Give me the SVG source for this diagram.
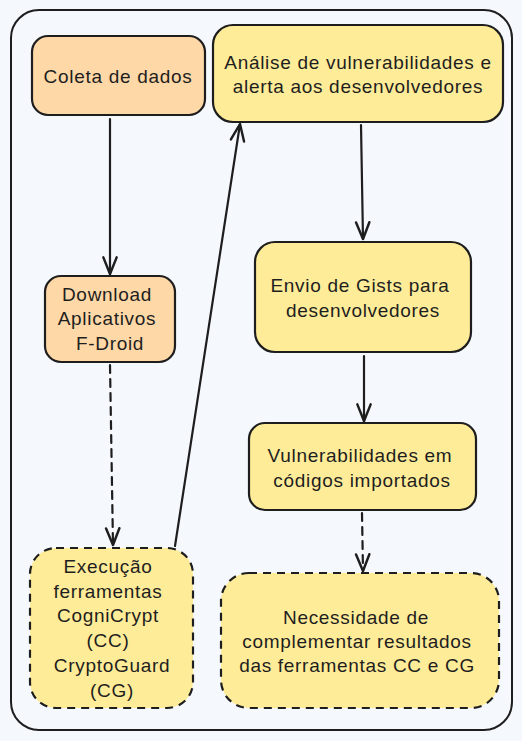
<svg xmlns="http://www.w3.org/2000/svg" width="522" height="741" viewBox="0 0 522 741">
<defs>
<style>
.box{stroke:#1e1e1e;stroke-width:2.2;}
.peach{fill:#ffd8a8;}
.yellow{fill:#ffec99;}
.dash{stroke-dasharray:8 6;}
.t{font-family:"Liberation Sans","DejaVu Sans",sans-serif;font-size:19px;letter-spacing:0.7px;fill:#1e1e1e;text-anchor:middle;dominant-baseline:central;}
.c{fill:none;stroke:#1e1e1e;stroke-width:2.2;stroke-linecap:round;}
</style>
<marker id="ah" markerWidth="20" markerHeight="20" viewBox="-16 -8 18 16" refX="0" refY="0" orient="auto" markerUnits="userSpaceOnUse">
<path d="M-15,-6 L0,0 L-15,6" fill="none" stroke="#1e1e1e" stroke-width="2.2" stroke-linecap="round" stroke-linejoin="round"/>
</marker>
</defs>
<rect x="0" y="0" width="522" height="741" fill="#f5f9fd"/>
<g id="frame">
<rect x="11" y="10" width="501" height="720" rx="28" fill="#f5f9fd" stroke="#1e1e1e" stroke-width="2"/>
</g>
<g id="connectors">
<path class="c" d="M110,119 L110,274" marker-end="url(#ah)"/>
<path class="c dash" d="M110,365 L113,545" marker-end="url(#ah)"/>
<path class="c" d="M175,546 L240,124" marker-end="url(#ah)"/>
<path class="c" d="M361,125 L363,239" marker-end="url(#ah)"/>
<path class="c" d="M364,356 L364,421" marker-end="url(#ah)"/>
<path class="c dash" d="M362,513 L363,571" marker-end="url(#ah)"/>
</g>
<g id="coleta">
<rect class="box peach" x="32" y="36" width="173" height="79" rx="16"/>
<text class="t" x="118" y="76">Coleta de dados</text>
</g>
<g id="analise">
<rect class="box yellow" x="213" y="25" width="290" height="97" rx="20"/>
<text class="t" x="358" y="62">Análise de vulnerabilidades e</text>
<text class="t" x="358" y="86">alerta aos desenvolvedores</text>
</g>
<g id="download">
<rect class="box peach" x="45" y="276" width="130" height="86" rx="16"/>
<text class="t" x="107" y="294">Download</text>
<text class="t" x="107" y="318">Aplicativos</text>
<text class="t" x="110" y="343">F-Droid</text>
</g>
<g id="envio">
<rect class="box yellow" x="255" y="242" width="216" height="110" rx="20"/>
<text class="t" x="360" y="285">Envio de Gists para</text>
<text class="t" x="363" y="310">desenvolvedores</text>
</g>
<g id="vulnerabilidades">
<rect class="box yellow" x="249" y="423" width="227" height="87" rx="16"/>
<text class="t" x="360" y="455">Vulnerabilidades em</text>
<text class="t" x="362" y="480">códigos importados</text>
</g>
<g id="execucao">
<rect class="box yellow dash" x="30" y="548" width="163" height="160" rx="26"/>
<text class="t" x="108" y="566">Execução</text>
<text class="t" x="108" y="591">ferramentas</text>
<text class="t" x="108" y="615">CogniCrypt</text>
<text class="t" x="108" y="640">(CC)</text>
<text class="t" x="112" y="665">CryptoGuard</text>
<text class="t" x="112" y="690">(CG)</text>
</g>
<g id="necessidade">
<rect class="box yellow dash" x="221" y="573" width="278" height="135" rx="28"/>
<text class="t" x="356" y="617">Necessidade de</text>
<text class="t" x="357" y="641">complementar resultados</text>
<text class="t" x="357" y="665">das ferramentas CC e CG</text>
</g>
</svg>
